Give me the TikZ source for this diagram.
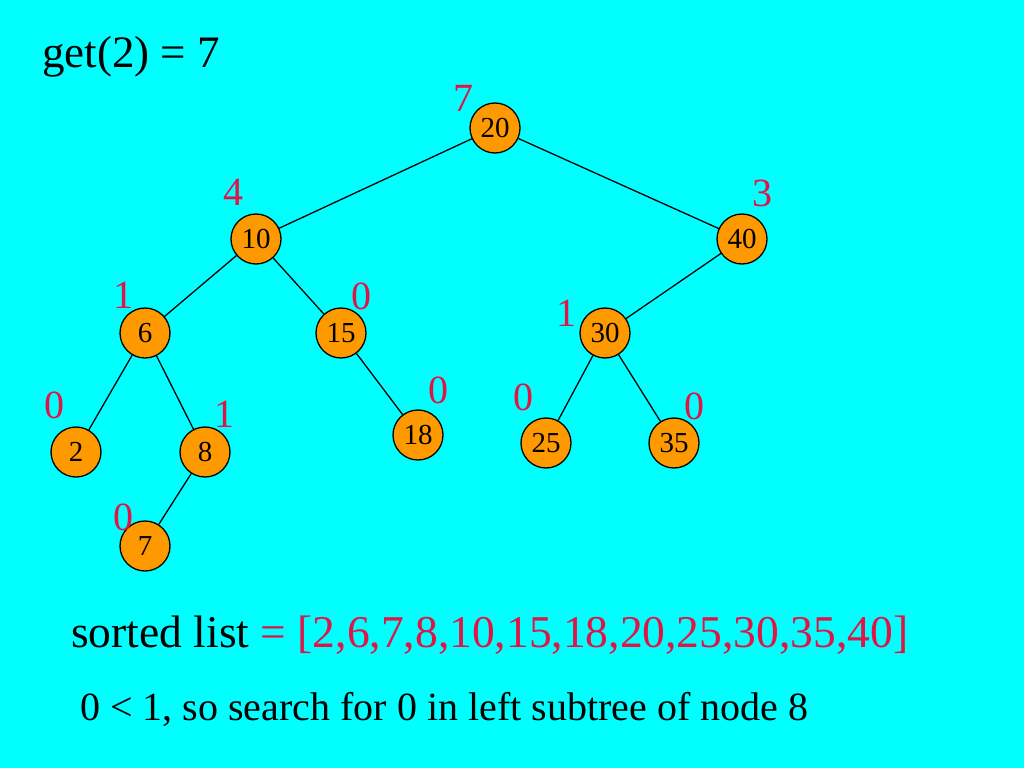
\documentclass[tikz,border=0pt]{standalone}
\usepackage{fontspec}
\setmainfont{Liberation Serif}
\definecolor{bgcyan}{RGB}{0,255,255}
\definecolor{nodeorange}{RGB}{255,153,0}
\definecolor{labred}{RGB}{225,20,70}
\begin{document}
\begin{tikzpicture}[x=1pt,y=-1pt,
  tnode/.style={circle,draw=black,line width=1.3pt,fill=nodeorange,minimum size=50pt,inner sep=0pt,font=\fontsize{29}{29}\selectfont},
  cnt/.style={text=labred,inner sep=0pt,font=\fontsize{40}{40}\selectfont},
  edge/.style={draw=black,line width=1.3pt}]
\fill[bgcyan] (0,0) rectangle (1024,768);
\useasboundingbox (0,0) rectangle (1024,768);
% tree nodes
\node[tnode] (n20) at (495,128) {20};
\node[tnode] (n10) at (256,239) {10};
\node[tnode] (n40) at (742,239) {40};
\node[tnode] (n6) at (145,333) {6};
\node[tnode] (n15) at (341,333) {15};
\node[tnode] (n30) at (605,333) {30};
\node[tnode] (n2) at (76,452) {2};
\node[tnode] (n8) at (205,452) {8};
\node[tnode] (n18) at (418,435) {18};
\node[tnode] (n25) at (546,443) {25};
\node[tnode] (n35) at (674,443) {35};
\node[tnode] (n7) at (145,546) {7};
% edges
\draw[edge] (n20) -- (n10);
\draw[edge] (n20) -- (n40);
\draw[edge] (n10) -- (n6);
\draw[edge] (n10) -- (n15);
\draw[edge] (n6) -- (n2);
\draw[edge] (n6) -- (n8);
\draw[edge] (n8) -- (n7);
\draw[edge] (n15) -- (n18);
\draw[edge] (n40) -- (n30);
\draw[edge] (n30) -- (n25);
\draw[edge] (n30) -- (n35);
% subtree size labels
\node[cnt] (c20) at (463,98) {7};
\node[cnt] (c10) at (233,192) {4};
\node[cnt] (c40) at (762,193) {3};
\node[cnt] (c6) at (123,295) {1};
\node[cnt] (c15) at (361,296) {0};
\node[cnt] (c30) at (566,313) {1};
\node[cnt] (c2) at (54,405) {0};
\node[cnt] (c8) at (224,414) {1};
\node[cnt] (c18) at (438,390) {0};
\node[cnt] (c25) at (523,397) {0};
\node[cnt] (c35) at (694,406) {0};
\node[cnt] (c7) at (123,517) {0};
% texts
\node[anchor=base west,inner sep=0pt,font=\fontsize{45}{45}\selectfont] (title) at (42,67) {get(2) = 7};
\node[anchor=base west,inner sep=0pt,font=\fontsize{45.5}{45.5}\selectfont] (sorted) at (71,647) {sorted list \textcolor{labred}{= [2,6,7,8,10,15,18,20,25,30,35,40]}};
\node[anchor=base west,inner sep=0pt,font=\fontsize{40}{40}\selectfont] (expl) at (80,720) {0 < 1, so search for 0 in left subtree of node 8};
\end{tikzpicture}
\end{document}
